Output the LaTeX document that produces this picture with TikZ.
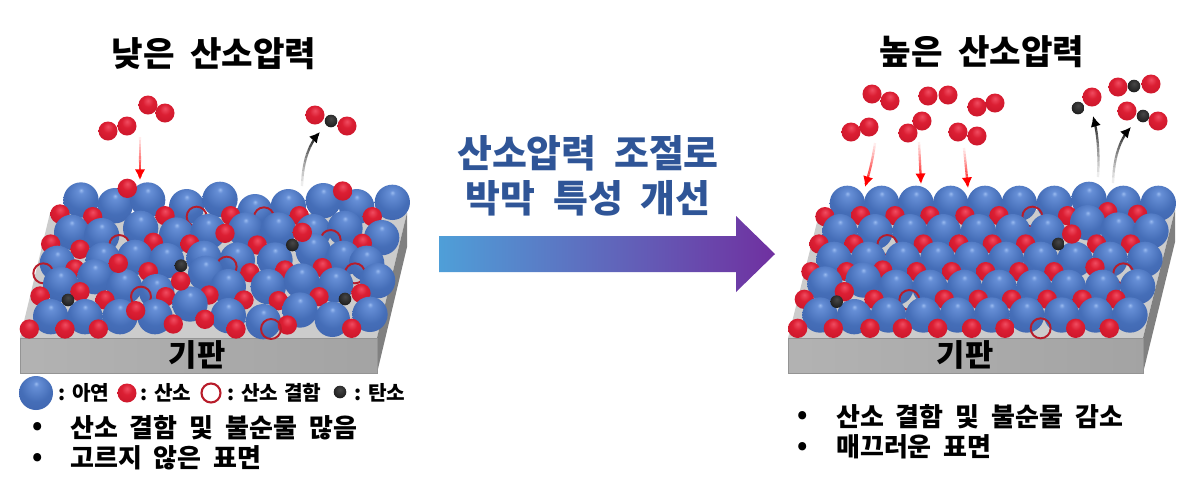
\documentclass[tikz,border=0pt]{standalone}
\usepackage{fontspec}
\setmainfont{Noto Sans CJK KR}[WordSpace=2]
\newfontfamily\legendfont{Noto Sans CJK KR}[WordSpace=1.2]
\usetikzlibrary{arrows.meta,calc,shadings}

\definecolor{titleblue}{HTML}{2F5597}
\definecolor{arrowblue}{HTML}{4F9FD8}
\definecolor{arrowpurple}{HTML}{7030A0}
\definecolor{vacred}{HTML}{B81C2A}

\pgfdeclareradialshading{znshade}{\pgfpoint{0bp}{14bp}}{
    rgb(0bp)=(0.60,0.73,0.94);
    rgb(4bp)=(0.40,0.56,0.84);
    rgb(22bp)=(0.27,0.43,0.72);
    rgb(46bp)=(0.24,0.38,0.67);
    rgb(66bp)=(0.15,0.26,0.50)}
\pgfdeclareradialshading{oshade}{\pgfpoint{0bp}{12bp}}{
    rgb(0bp)=(0.94,0.30,0.38);
    rgb(14bp)=(0.86,0.12,0.20);
    rgb(44bp)=(0.76,0.07,0.15);
    rgb(64bp)=(0.50,0.03,0.08)}
\pgfdeclareradialshading{cshade}{\pgfpoint{0bp}{10bp}}{
    rgb(0bp)=(0.28,0.28,0.28);
    rgb(30bp)=(0.11,0.11,0.11);
    rgb(64bp)=(0.04,0.04,0.04)}

\tikzset{
    znatom/.style={shading=znshade},
    oatom/.style={shading=oshade},
    catom/.style={shading=cshade},
    vacancy/.style={draw=vacred, line width=1.1pt},
    topface/.style={fill=black!20},
    frontface/.style={left color=black!30, right color=black!36, draw=black!42, line width=0.5pt},
    sideface/.style={fill=black!50},
    headline/.style={font=\bfseries\fontsize{19.5}{22}\selectfont},
    slogan/.style={font=\bfseries\fontsize{21.6}{26}\selectfont, text=titleblue},
    baselabel/.style={font=\bfseries\fontsize{17.5}{20}\selectfont},
    legendtext/.style={font=\legendfont\bfseries\fontsize{11.5}{13}\selectfont, anchor=west},
    bullettext/.style={font=\bfseries\fontsize{14.8}{18}\selectfont, anchor=west},
}

% one row of atoms, zoom units inside the film scopes
\newcommand{\znrow}[1]{\foreach \x/\y in {#1} \shade[znatom] (\x,\y) circle (53);}
\newcommand{\orow}[1]{\foreach \x/\y in {#1} \shade[oatom] (\x,\y) circle (29);}
\newcommand{\crow}[1]{\foreach \x/\y in {#1} \shade[catom] (\x,\y) circle (19);}
\newcommand{\vacrow}[1]{\foreach \x/\y in {#1} \draw[vacancy] (\x,\y) circle (30);}
% free atoms, pixel units
\newcommand{\gaso}[1]{\foreach \x/\y in {#1} \shade[oatom] (\x,\y) circle (9.5);}
\newcommand{\gasc}[1]{\foreach \x/\y in {#1} \shade[catom] (\x,\y) circle (6.3);}
% curved arrow whose tail fades out
\newcommand{\fadearrow}[4]{
    \foreach \i in {1,...,13}{
        \pgfmathsetmacro{\ta}{(\i-1)/14}
        \pgfmathsetmacro{\tb}{\i/14}
        \pgfmathsetmacro{\mixval}{\i*7}
        \draw[#4!\mixval!white, line width=1.3pt]
            ($($(#1)!\ta!(#2)$)!\ta!($(#2)!\ta!(#3)$)$) -- ($($(#1)!\tb!(#2)$)!\tb!($(#2)!\tb!(#3)$)$);
    }
    \draw[#4, line width=1.5pt, -{Latex[length=6pt,width=6pt]}]
        ($($(#1)!0.93!(#2)$)!0.93!($(#2)!0.93!(#3)$)$) -- (#3);
}

\begin{document}
\begin{tikzpicture}[x=0.02cm, y=-0.02cm]
    \fill[white] (0,0) rectangle (1200,488);
    \useasboundingbox (0,0) rectangle (1200,488);

    % left film
    \fill[topface] (20,338) -- (377,338) -- (407,213) -- (50,213) -- cycle;
    \fill[sideface] (377,338) -- (407,213) -- (407,247) -- (377,373) -- cycle;
    \shade[frontface] (20,338) rectangle (377,373);
    \begin{scope}[shift={(0,170)}, x=0.00667cm, y=-0.00667cm]
    \znrow{243/90,345/107,443/90,560/110,660/88,765/125,865/110,970/92,1070/110,1177/97}
    \orow{180/132,278/140,495/137,692/137,898/137,1117/140}
    \vacrow{590/140,792/142}
    \znrow{215/187,305/197,422/175,530/195,625/185,737/180,835/180,940/185,1035/175,1145/203}
    \orow{152/222,240/238,460/217,570/222,772/225,1087/220}
    \vacrow{358/225,992/210}
    \znrow{172/280,310/270,405/262,500/272,612/265,712/270,825/270,940/243,1030/265,1100/280}
    \orow{225/297,445/305,750/308,855/300,967/293}
    \vacrow{680/290,130/310,1065/310}
    \znrow{182/343,285/320,373/350,470/365,617/310,685/350,805/350,905/333,1007/345,1133/332}
    \orow{120/378,240/365,315/390,497/380,627/375,732/390,835/392,957/380,1083/370}
    \vacrow{423/380}
    \znrow{152/440,255/440,360/440,465/440,570/402,685/437,790/455,900/420,997/448,1110/433}
    \orow{88/477,195/477,295/477,520/462,615/448,708/477,862/465,1055/475}
    \orow{382/55,1028/63,675/190,907/187,355/280,542/333,407/422}
    \crow{877/225,543/287,204/390,1035/387}
    \vacrow{813/477}
    \end{scope}
    \node[baselabel] (baseleft) at (197,355) {기판};

    % right film
    \fill[topface] (788,338) -- (1143,338) -- (1175,210) -- (820,210) -- cycle;
    \fill[sideface] (1143,338) -- (1175,210) -- (1175,242) -- (1143,373) -- cycle;
    \shade[frontface] (788,338) rectangle (1143,373);
    \begin{scope}[shift={(770,170)}, x=0.00667cm, y=-0.00667cm]
    \znrow{232/100,335/100,438/100,542/100,645/100,748/100,853/100,957/88,1060/100,1165/100}
    \orow{165/140,272/137,375/137,480/137,585/137,687/137,893/137,1013/125,1103/133}
    \vacrow{787/140}
    \znrow{210/185,315/185,420/185,520/185,625/185,728/185,832/185,953/158,1045/180,1143/183}
    \orow{147/222,252/222,460/222,567/222,667/222,767/222,980/222,1082/222}
    \vacrow{352/225}
    \znrow{192/268,295/268,398/268,503/268,605/268,708/268,812/268,915/268,1020/268,1125/268}
    \orow{123/305,230/305,338/300,440/305,545/305,647/305,747/305,852/305,975/292}
    \vacrow{1060/310}
    \znrow{165/342,280/330,378/352,480/352,583/352,687/352,792/352,895/352,998/352,1103/350}
    \orow{103/388,312/388,523/388,625/388,725/388,832/388,937/388,1038/388}
    \vacrow{418/390}
    \znrow{150/435,253/440,355/435,460/435,562/435,665/435,770/435,875/435,977/435,1080/435}
    \orow{83/475,190/475,300/475,397/475,503/475,605/475,705/475,917/475,1018/475}
    \orow{905/192,223/365}
    \crow{865/222,200/395}
    \vacrow{812/475}
    \end{scope}
    \node[baselabel] (baseright) at (965,355) {기판};

    % gas above the left film
    \gaso{108/131,127/126,148/105,165/113}
    \gaso{315/115,347/126}
    \gasc{331/121}
    \coordinate (lowa) at (140,137);
    \coordinate (lowb) at (140,180);
    \coordinate (lowm) at (140,160);
    \fadearrow{lowa}{lowm}{lowb}{red}
    \coordinate (cota) at (302,186);
    \coordinate (cotm) at (303,150);
    \coordinate (cotb) at (320,132);
    \fadearrow{cota}{cotm}{cotb}{black}

    % gas above the right film
    \gaso{872/94,890/101,851/132,869/127,928/96,948/95,908/133,922/121,977/107,995/103,958/132,977/136}
    \gaso{1092/97,1118/87,1151/84,1127/111,1158/121}
    \gasc{1078/108,1134/86,1143/116}
    \coordinate (higha) at (875,143);
    \coordinate (highb) at (865,187);
    \coordinate (highm) at (872,165);
    \fadearrow{higha}{highm}{highb}{red}
    \coordinate (highc) at (919,142);
    \coordinate (highd) at (921,184);
    \coordinate (highn) at (920,163);
    \fadearrow{highc}{highn}{highd}{red}
    \coordinate (highe) at (964,148);
    \coordinate (highf) at (968,188);
    \coordinate (higho) at (966,168);
    \fadearrow{highe}{higho}{highf}{red}
    \coordinate (cooa) at (1098,177);
    \coordinate (coom) at (1100,140);
    \coordinate (coob) at (1093,116);
    \fadearrow{cooa}{coom}{coob}{black}
    \coordinate (cosa) at (1113,183);
    \coordinate (cosm) at (1114,145);
    \coordinate (cosb) at (1131,127);
    \fadearrow{cosa}{cosm}{cosb}{black}

    % titles
    \node[headline] (titlelow) at (214,54) {낮은 산소압력};
    \node[headline] (titlehigh) at (982,52) {높은 산소압력};
    \node[slogan] (sloganone) at (588,153) {산소압력 조절로};
    \node[slogan] (slogantwo) at (588,198) {박막 특성 개선};

    % big arrow
    \shade[left color=arrowblue, right color=arrowpurple]
        (439,236) -- (736,236) -- (736,216) -- (775,254) -- (736,292) -- (736,272) -- (439,272) -- cycle;

    % legend
    \shade[znatom] (36,393) circle (17);
    \node[legendtext] (legzn) at (52,393) {: 아연};
    \gaso{127/393}
    \node[legendtext] (lego) at (134,393) {: 산소};
    \draw[vacancy, line width=1.2pt] (211,393) circle (9.5);
    \node[legendtext] (legvac) at (221,393) {: 산소 결함};
    \gasc{340/392}
    \node[legendtext] (legc) at (348,393) {: 탄소};

    % notes
    \node[bullettext] (bulla) at (26,428) {•};
    \node[bullettext] (notea) at (64,428) {산소 결함 및 불순물 많음};
    \node[bullettext] (bullb) at (26,459) {•};
    \node[bullettext] (noteb) at (64,458) {고르지 않은 표면};
    \node[bullettext] (bullc) at (791,417) {•};
    \node[bullettext] (notec) at (830,417) {산소 결함 및 불순물 감소};
    \node[bullettext] (bulld) at (791,448) {•};
    \node[bullettext] (noted) at (830,447) {매끄러운 표면};
\end{tikzpicture}
\end{document}
